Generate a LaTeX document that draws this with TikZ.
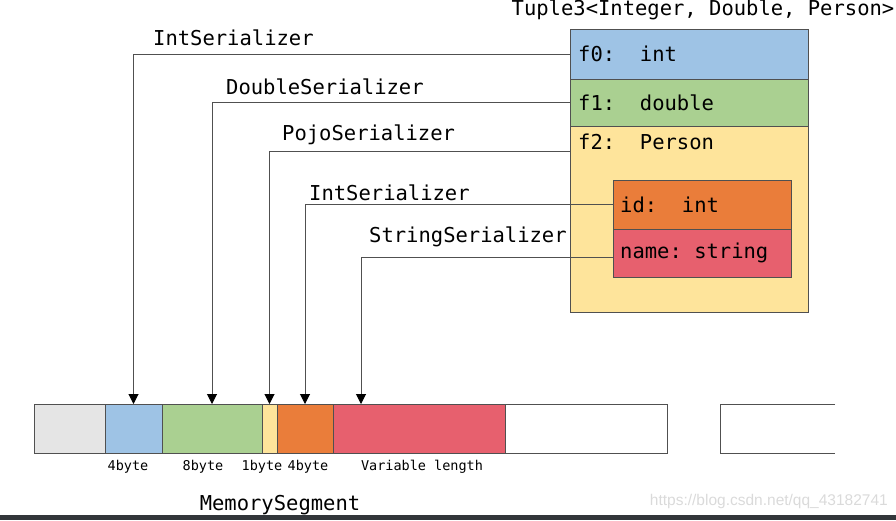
\documentclass[tikz,border=0pt]{standalone}
\usepackage{fontspec}
\newfontfamily\codefont{DejaVu Sans Mono}
\newfontfamily\markfont{Liberation Sans}
\usetikzlibrary{positioning,arrows.meta}

\definecolor{linegray}{RGB}{80,80,80}
\definecolor{fieldblue}{RGB}{158,195,229}
\definecolor{fieldgreen}{RGB}{170,208,145}
\definecolor{fieldyellow}{RGB}{254,228,155}
\definecolor{fieldorange}{RGB}{234,125,58}
\definecolor{fieldred}{RGB}{231,96,110}
\definecolor{cellgrey}{RGB}{229,229,229}
\definecolor{bandgray}{RGB}{50,54,58}
\definecolor{markgray}{RGB}{218,218,218}

\tikzset{
  field/.style={draw=linegray, line width=1pt, outer sep=0pt, minimum width=238pt, inner sep=0pt},
  subfield/.style={field, minimum width=178pt},
  code/.style={anchor=west, inner sep=0pt, font=\codefont\fontsize{20.5}{24}\selectfont},
  cell/.style={draw=linegray, line width=1pt, outer sep=0pt, minimum height=49pt, inner sep=0pt},
  ser/.style={anchor=base west, inner sep=0pt, font=\codefont\fontsize{20.5}{24}\selectfont},
  size/.style={anchor=base, inner sep=0pt, font=\codefont\fontsize{13.5}{16}\selectfont},
  wire/.style={draw=linegray, line width=1pt, -{Triangle[length=10pt,width=10pt,color=black]}}
}

\begin{document}
\begin{tikzpicture}[x=1pt,y=-1pt]
    \useasboundingbox (0,0) rectangle (896,520);
    \fill[bandgray] (0,515) rectangle (896,520);

    % the tuple and its fields
    \node[ser, anchor=base] (tuple) at (703,15) {Tuple3<Integer, Double, Person>};
    \node[field, fill=fieldblue, minimum height=50pt, anchor=north west] (f0) at (570,29) {};
    \node[field, fill=fieldgreen, minimum height=47pt, below=0pt of f0] (f1) {};
    \node[field, fill=fieldyellow, minimum height=186pt, below=0pt of f1] (f2) {};
    \node[code] (f0name) at ([xshift=8pt]f0.west) {f0:\ \ int};
    \node[code] (f1name) at ([xshift=8pt]f1.west) {f1:\ \ double};
    \node[code] (f2name) at ([xshift=8pt,yshift=-16pt]f2.north west) {f2:\ \ Person};
    \coordinate (f2port) at ([yshift=-25pt]f2.north west);
    \node[subfield, fill=fieldorange, minimum height=49pt, anchor=north west] (fid) at (613,180) {};
    \node[subfield, fill=fieldred, minimum height=48pt, below=0pt of fid] (fname) {};
    \node[code] (idname) at ([xshift=7pt]fid.west) {id:\ \ int};
    \node[code] (namename) at ([xshift=7pt]fname.west) {name:\ string};

    % the memory segment
    \node[cell, fill=cellgrey, minimum width=71pt, anchor=north west] (m0) at (34,404) {};
    \node[cell, fill=fieldblue, minimum width=57pt, right=0pt of m0] (mInt) {};
    \node[cell, fill=fieldgreen, minimum width=100pt, right=0pt of mInt] (mDouble) {};
    \node[cell, fill=fieldyellow, minimum width=15pt, right=0pt of mDouble] (mFlag) {};
    \node[cell, fill=fieldorange, minimum width=56pt, right=0pt of mFlag] (mId) {};
    \node[cell, fill=fieldred, minimum width=172pt, right=0pt of mId] (mName) {};
    \node[cell, fill=white, minimum width=162pt, right=0pt of mName] (mFree) {};
    \node[cell, draw=none, minimum width=115pt, anchor=north west] (mNext) at (720,404) {};
    \draw[linegray, line width=1pt] (mNext.north east) -- (mNext.north west) -- (mNext.south west) -- (mNext.south east);

    \node[size] (sInt) at (128,470) {4byte};
    \node[size] (sDouble) at (203,470) {8byte};
    \node[size] (sFlag) at (262,470) {1byte};
    \node[size] (sId) at (308,470) {4byte};
    \node[size] (sName) at (422,470) {Variable length};
    \node[ser, anchor=base] (segment) at (280,510) {MemorySegment};

    % serializers
    \node[ser] (serInt) at (153,45) {IntSerializer};
    \node[ser] (serDouble) at (226,94) {DoubleSerializer};
    \node[ser] (serPojo) at (282,140) {PojoSerializer};
    \node[ser] (serId) at (309,200) {IntSerializer};
    \node[ser] (serName) at (369,242) {StringSerializer};
    \draw[wire] (f0.west) -| (mInt.north);
    \draw[wire] (f1.west) -| (mDouble.north);
    \draw[wire] (f2port) -| (mFlag.north);
    \draw[wire] (fid.west) -| (mId.north);
    \draw[wire] ([yshift=-4pt]fname.west) -| ([xshift=28pt]mName.north west);

    \node[anchor=base east, inner sep=0pt, text=markgray, font=\markfont\fontsize{15.5}{18}\selectfont] (mark) at (888,505) {https://blog.csdn.net/qq\_43182741};
\end{tikzpicture}
\end{document}
